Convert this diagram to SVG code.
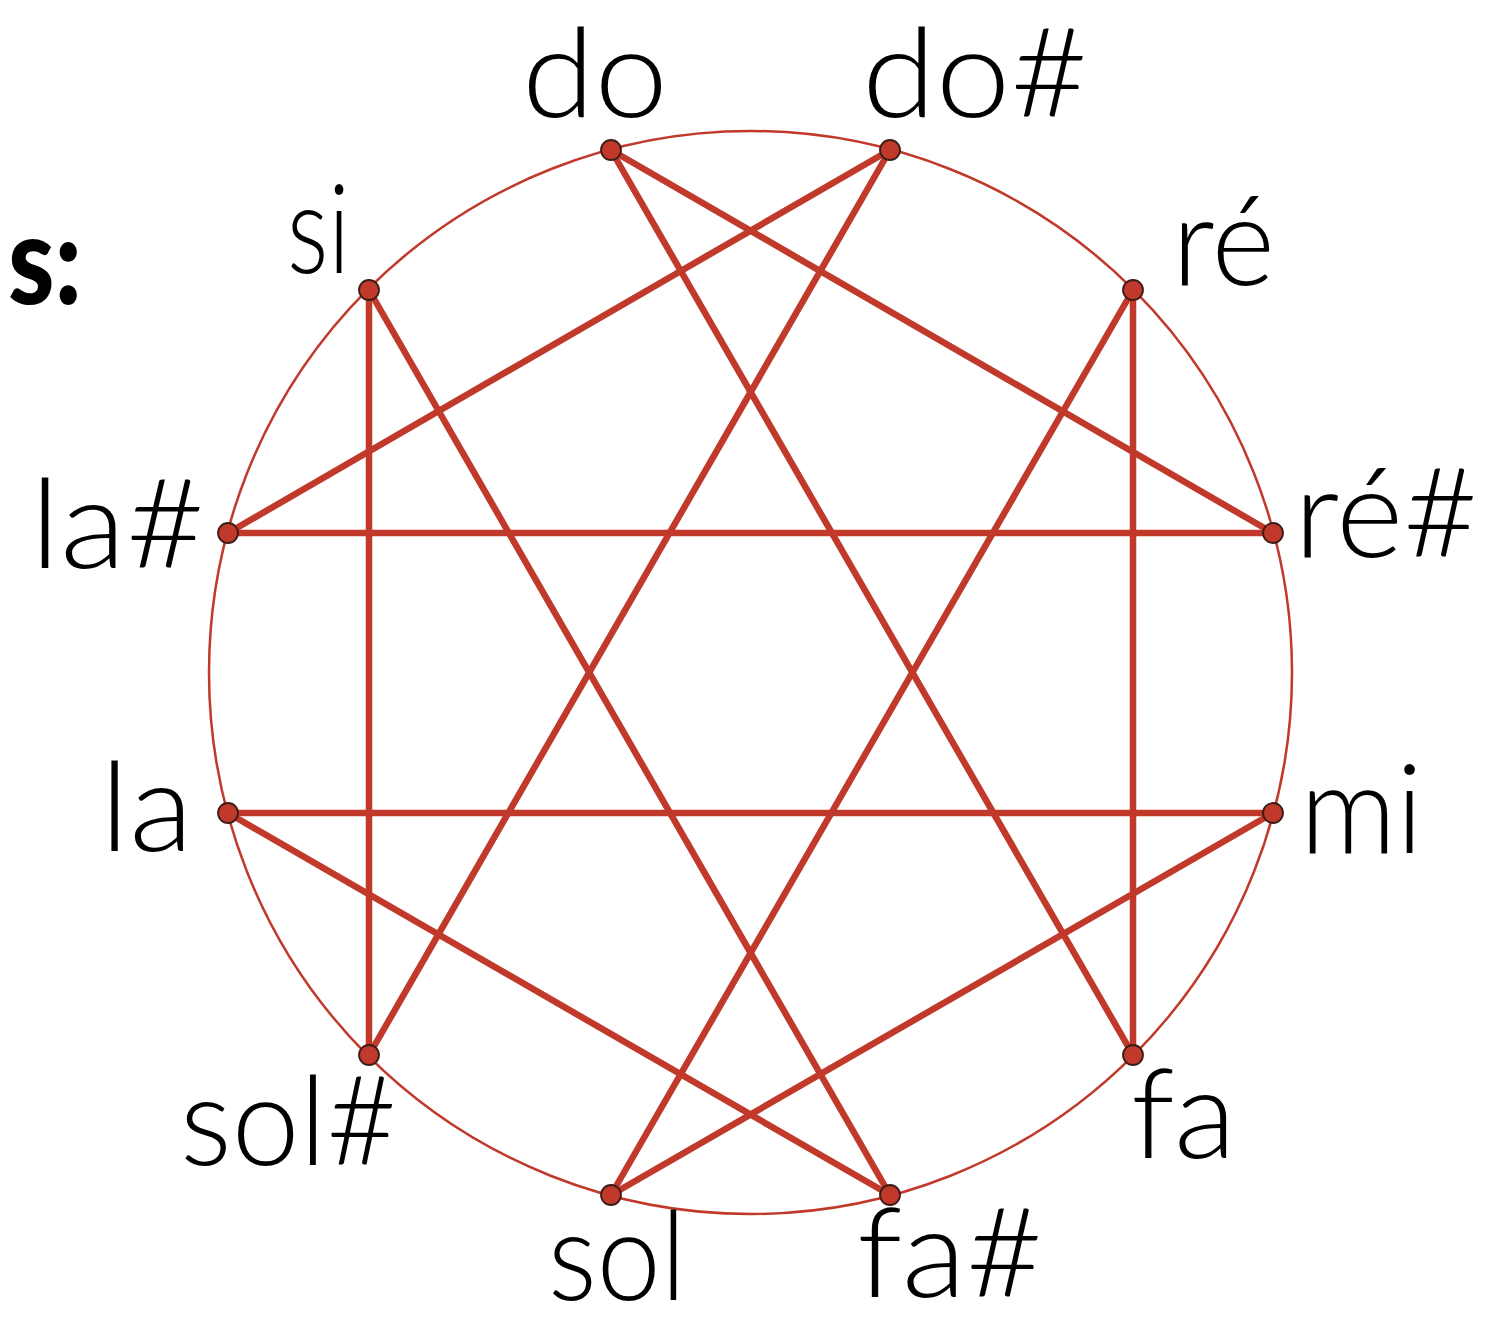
<svg xmlns="http://www.w3.org/2000/svg" width="1489" height="1320" viewBox="0 0 1489 1320">
<style>
.edge{stroke:#c0392b;stroke-width:6.5;stroke-linecap:round;fill:none}
.ring{stroke:#c0392b;stroke-width:2.5;fill:none}
.dot{fill:#c0392b;stroke:#3b1c16;stroke-width:1.8}
.lbl{font-family:Lato,"Liberation Sans","DejaVu Sans",sans-serif;font-size:124px;font-weight:300;fill:#000}
.bold{font-family:Lato,"Liberation Sans","DejaVu Sans",sans-serif;font-size:124px;font-weight:900;fill:#000}
</style>
<rect width="1489" height="1320" fill="#fff"/>
<circle class="ring" cx="750.5" cy="672.5" r="541.5"/>
<g id="connectors">
<line class="edge" x1="611" y1="150" x2="1273" y2="533"/>
<line class="edge" x1="611" y1="150" x2="1133" y2="1055"/>
<line class="edge" x1="890" y1="150" x2="228" y2="533"/>
<line class="edge" x1="890" y1="150" x2="369" y2="1055"/>
<line class="edge" x1="369" y1="290" x2="369" y2="1055"/>
<line class="edge" x1="369" y1="290" x2="890" y2="1195"/>
<line class="edge" x1="1133" y1="290" x2="1133" y2="1055"/>
<line class="edge" x1="1133" y1="290" x2="611" y2="1195"/>
<line class="edge" x1="228" y1="533" x2="1273" y2="533"/>
<line class="edge" x1="228" y1="813" x2="1273" y2="813"/>
<line class="edge" x1="228" y1="813" x2="890" y2="1195"/>
<line class="edge" x1="1273" y1="813" x2="611" y2="1195"/>
</g>
<text class="bold" x="8" y="304" textLength="74" lengthAdjust="spacingAndGlyphs">s:</text>
<g id="n-do"><circle class="dot" cx="611" cy="150" r="10"/><text class="lbl" x="522" y="117" textLength="146" lengthAdjust="spacingAndGlyphs">do</text></g>
<g id="n-dos"><circle class="dot" cx="890" cy="150" r="10"/><text class="lbl" x="862" y="117" textLength="226" lengthAdjust="spacingAndGlyphs">do#</text></g>
<g id="n-re"><circle class="dot" cx="1133" cy="290" r="10"/><text class="lbl" x="1172" y="285" textLength="103" lengthAdjust="spacingAndGlyphs">ré</text></g>
<g id="n-res"><circle class="dot" cx="1273" cy="533" r="10"/><text class="lbl" x="1294" y="557" textLength="184" lengthAdjust="spacingAndGlyphs">ré#</text></g>
<g id="n-mi"><circle class="dot" cx="1273" cy="813" r="10"/><text class="lbl" x="1300" y="853" textLength="123" lengthAdjust="spacingAndGlyphs">mi</text></g>
<g id="n-fa"><circle class="dot" cx="1133" cy="1055" r="10"/><text class="lbl" x="1131" y="1158" textLength="105" lengthAdjust="spacingAndGlyphs">fa</text></g>
<g id="n-fas"><circle class="dot" cx="890" cy="1195" r="10"/><text class="lbl" x="857" y="1297" textLength="186" lengthAdjust="spacingAndGlyphs">fa#</text></g>
<g id="n-sol"><circle class="dot" cx="611" cy="1195" r="10"/><text class="lbl" x="548" y="1300" textLength="138" lengthAdjust="spacingAndGlyphs">sol</text></g>
<g id="n-sols"><circle class="dot" cx="369" cy="1055" r="10"/><text class="lbl" x="180" y="1165" textLength="217" lengthAdjust="spacingAndGlyphs">sol#</text></g>
<g id="n-la"><circle class="dot" cx="228" cy="813" r="10"/><text class="lbl" x="100" y="851" textLength="93" lengthAdjust="spacingAndGlyphs">la</text></g>
<g id="n-las"><circle class="dot" cx="228" cy="533" r="10"/><text class="lbl" x="30" y="568" textLength="175" lengthAdjust="spacingAndGlyphs">la#</text></g>
<g id="n-si"><circle class="dot" cx="369" cy="290" r="10"/><text class="lbl" x="287" y="273" textLength="63" lengthAdjust="spacingAndGlyphs">si</text></g>
</svg>
